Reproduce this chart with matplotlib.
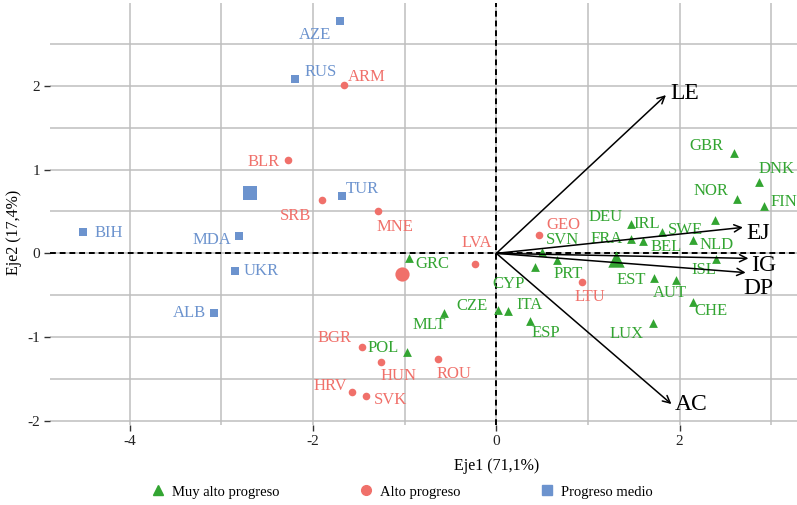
import numpy as np
import matplotlib
matplotlib.use("Agg")
from matplotlib import pyplot as plt
from matplotlib.lines import Line2D

plt.rcParams['font.family'] = ['Liberation Serif', 'DejaVu Serif']
plt.rcParams['axes.unicode_minus'] = False

# datos (coordenadas en los ejes 1 y 2)
paises_muy_alto = ['GRC', 'MLT', 'POL', 'CZE', 'ITA', 'ESP', 'CYP', 'PRT', 'SVN', 'DEU', 'IRL', 'SWE',
                   'FRA', 'BEL', 'NLD', 'ISL', 'EST', 'AUT', 'CHE', 'LUX', 'GBR', 'DNK', 'NOR', 'FIN']
x_muy_alto = [-0.95, -0.57, -0.97, 0.02, 0.13, 0.37, 0.42, 0.66, 0.50, 1.47, 1.81, 2.39,
              1.47, 1.60, 2.14, 2.40, 1.72, 1.96, 2.15, 1.71, 2.59, 2.86, 2.62, 2.92]
y_muy_alto = [-0.06, -0.71, -1.18, -0.68, -0.69, -0.81, -0.16, -0.08, 0.02, 0.35, 0.25, 0.40,
              0.17, 0.15, 0.16, -0.07, -0.30, -0.32, -0.58, -0.83, 1.20, 0.85, 0.65, 0.57]

paises_alto = ['ARM', 'BLR', 'SRB', 'MNE', 'LVA', 'GEO', 'LTU', 'BGR', 'HUN', 'ROU', 'HRV', 'SVK']
x_alto = [-1.66, -2.27, -1.90, -1.29, -0.23, 0.46, 0.93, -1.47, -1.26, -0.64, -1.57, -1.42]
y_alto = [2.01, 1.12, 0.64, 0.51, -0.13, 0.22, -0.34, -1.12, -1.30, -1.26, -1.66, -1.70]

paises_medio = ['AZE', 'RUS', 'TUR', 'BIH', 'MDA', 'UKR', 'ALB']
x_medio = [-1.71, -2.20, -1.68, -4.51, -2.81, -2.85, -3.08]
y_medio = [2.77, 2.08, 0.69, 0.25, 0.21, -0.21, -0.71]

variables = ['LE', 'EJ', 'IG', 'DP', 'AC']
x_var = [1.85, 2.69, 2.75, 2.72, 1.91]
y_var = [1.89, 0.31, -0.06, -0.23, -1.80]

grupos = ['Muy alto progreso', 'Alto progreso', 'Progreso medio']

# desplazamiento de las etiquetas en pixeles (como ggrepel)
desp = {
    'AZE': (-25, -14), 'RUS': (26, 7), 'TUR': (20, 7), 'BIH': (26, -1), 'MDA': (-27, -4),
    'UKR': (26, 0), 'ALB': (-25, 0),
    'ARM': (23, 8), 'BLR': (-25, -2), 'SRB': (-27, -16), 'MNE': (17, -16), 'LVA': (1, 21),
    'GEO': (25, 10), 'LTU': (8, -15), 'BGR': (-27, 9), 'HUN': (18, -14), 'ROU': (16, -15),
    'HRV': (-22, 6), 'SVK': (24, -4),
    'GRC': (23, -6), 'MLT': (-15, -12), 'POL': (-24, 4), 'CZE': (-26, 4), 'ITA': (21, 6),
    'ESP': (16, -12), 'CYP': (-26, -17), 'PRT': (11, -14), 'SVN': (20, 12), 'DEU': (-26, 7),
    'IRL': (-16, 8), 'SWE': (-30, -10), 'FRA': (-24, 0), 'BEL': (23, -6), 'NLD': (24, -5),
    'ISL': (-13, -11), 'EST': (-23, -2), 'AUT': (-6, -13), 'CHE': (18, -9), 'LUX': (-27, -11),
    'GBR': (-27, 7), 'DNK': (18, 13), 'NOR': (-26, 8), 'FIN': (20, 4),
}
desp_var = {'LE': (19, 2), 'EJ': (15, -6), 'IG': (15, -7), 'DP': (13, -16), 'AC': (20, 0)}

colores = ['#33A532', '#F0706A', '#6C93CE']
marcas = ['^', 'o', 's']

fig = plt.figure(figsize=(7.97, 5.05), dpi=100)
ax = fig.add_axes([50 / 797, 80 / 505, 747 / 797, 422 / 505])

ax.set_xlim(-4.87, 3.28)
ax.set_ylim(-2.05, 2.99)
ax.set_xticks([-4, -2, 0, 2])
ax.set_xticks([-3, -1, 1, 3], minor=True)
ax.set_yticks([-2, -1, 0, 1, 2])
ax.set_yticks([-1.5, -0.5, 0.5, 1.5, 2.5], minor=True)
ax.grid(True, which='both', color='#BEBEBE', lw=1.1)
ax.set_axisbelow(True)
for s in ax.spines.values():
    s.set_visible(False)
ax.tick_params(which='major', length=4, width=1, color='#333333', labelsize=11, labelcolor='#222222', pad=3)
ax.tick_params(which='minor', length=0)

ax.axhline(0, color='black', ls=(0, (3, 2)), lw=1.4, zorder=2)
ax.axvline(0, color='black', ls=(0, (3, 2)), lw=1.4, zorder=2)

datos = [(paises_muy_alto, x_muy_alto, y_muy_alto),
         (paises_alto, x_alto, y_alto),
         (paises_medio, x_medio, y_medio)]
tam = [40, 30, 30]
for (paises, xs, ys), c, m, s in zip(datos, colores, marcas, tam):
    ax.scatter(xs, ys, marker=m, s=s, color=c, lw=0, zorder=3)
    ax.scatter(np.mean(xs), np.mean(ys), marker=m, s=s * 3.5, color=c, lw=0, zorder=3)
    for p, xi, yi in zip(paises, xs, ys):
        ax.annotate(p, (xi, yi), xytext=desp[p], textcoords='offset pixels',
                    ha='center', va='center', color=c, fontsize=12, annotation_clip=False)

for v, xv, yv in zip(variables, x_var, y_var):
    ax.annotate('', xy=(xv, yv), xytext=(0, 0),
                arrowprops=dict(arrowstyle='->', color='black', lw=1.1,
                                shrinkA=0, shrinkB=0, mutation_scale=13), zorder=4)
    ax.annotate(v, (xv, yv), xytext=desp_var[v], textcoords='offset pixels',
                ha='center', va='center', color='black', fontsize=17, annotation_clip=False)

fig.text(497 / 797, 1 - 466 / 505, 'Eje1 (71,1%)', ha='center', va='center', fontsize=11.5)
fig.text(14 / 797, 1 - 232 / 505, 'Eje2 (17,4%)', ha='center', va='center', fontsize=11.5, rotation=90)

handles = [Line2D([], [], ls='none', marker=m, color=c, markersize=7) for m, c in zip(marcas, colores)]
fig.legend(handles, grupos, loc='center', bbox_to_anchor=(401 / 797, 1 - 492 / 505), ncol=3,
           frameon=False, fontsize=10.5, columnspacing=5.3, handletextpad=0.4, handlelength=1.2)

fig.savefig('out.png', dpi=100)
